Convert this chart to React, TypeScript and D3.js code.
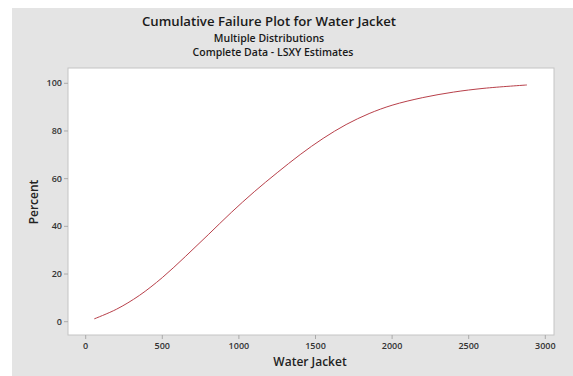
import React from "react";
import * as d3 from "d3";

// Fitted cumulative failure curve (Water Jacket, hours vs. percent failed)
const waterJacket = [56, 200, 350, 500, 650, 800, 950, 1100, 1250, 1400, 1550, 1700, 1850, 2000, 2200, 2400, 2600, 2880];
const percentFailed = [1.2, 5.2, 11.0, 18.5, 27.3, 36.5, 45.8, 54.5, 62.5, 70.1, 76.9, 82.7, 87.3, 90.8, 94.0, 96.3, 97.9, 99.3];

const xTicks = [0, 500, 1000, 1500, 2000, 2500, 3000];
const yTicks = [0, 20, 40, 60, 80, 100];

const titleLines = [
  "Cumulative Failure Plot for Water Jacket",
  "Multiple Distributions",
  "Complete Data - LSXY Estimates",
];

const W = 573;
const H = 376;
const FONT = "'Open Sans', 'Noto Sans', sans-serif";

export default function App() {
  const plot = { left: 68, right: 554, top: 68, bottom: 335 };
  const x = d3.scaleLinear().domain([0, 3000]).range([85.7, 545.3]);
  const y = d3.scaleLinear().domain([0, 100]).range([321.7, 83.3]);

  const pts = waterJacket.map((v, i) => [v, percentFailed[i]] as [number, number]);
  const line = d3
    .line<[number, number]>()
    .x((d) => x(d[0]))
    .y((d) => y(d[1]))
    .curve(d3.curveCatmullRom.alpha(0.5));

  return (
    <svg
      width={W}
      height={H}
      style={{ position: "absolute", left: 0, top: 0, fontFamily: FONT }}
    >
      <rect x={0} y={0} width={W} height={H} fill="#ffffff" />
      <rect x={12} y={8} width={W - 12} height={H - 8} fill="#e4e4e4" />

      {/* titles */}
      <text x={269} y={26.3} textAnchor="middle" fontSize={13.2} fontWeight={600} fill="#1a1a1a">
        {titleLines[0]}
      </text>
      <text x={269} y={41.6} textAnchor="middle" fontSize={10.5} fontWeight={600} fill="#1a1a1a">
        {titleLines[1]}
      </text>
      <text x={273} y={56} textAnchor="middle" fontSize={10.5} fontWeight={600} fill="#1a1a1a">
        {titleLines[2]}
      </text>

      {/* plot area */}
      <rect
        x={plot.left}
        y={plot.top}
        width={plot.right - plot.left}
        height={plot.bottom - plot.top}
        fill="#ffffff"
        stroke="#c4c4c4"
        strokeWidth={1}
      />

      {/* x axis */}
      {xTicks.map((t) => (
        <g key={"x" + t}>
          <line x1={x(t)} x2={x(t)} y1={plot.bottom} y2={plot.bottom + 4} stroke="#aaaaaa" />
          <text x={x(t)} y={349} textAnchor="middle" fontSize={9} fontWeight={600} fill="#333">
            {t}
          </text>
        </g>
      ))}
      <text x={310} y={366} textAnchor="middle" fontSize={12} fontWeight={600} fill="#222">
        Water Jacket
      </text>

      {/* y axis */}
      {yTicks.map((t) => (
        <g key={"y" + t}>
          <line x1={plot.left - 4} x2={plot.left} y1={y(t)} y2={y(t)} stroke="#aaaaaa" />
          <text x={62} y={y(t) + 3} textAnchor="end" fontSize={9} fontWeight={600} fill="#333">
            {t}
          </text>
        </g>
      ))}
      <text
        transform={`translate(38,202) rotate(-90)`}
        textAnchor="middle"
        fontSize={12}
        fontWeight={600}
        fill="#222"
      >
        Percent
      </text>

      {/* fitted curve */}
      <path d={line(pts) ?? ""} fill="none" stroke="#b8404a" strokeWidth={1} />
    </svg>
  );
}
